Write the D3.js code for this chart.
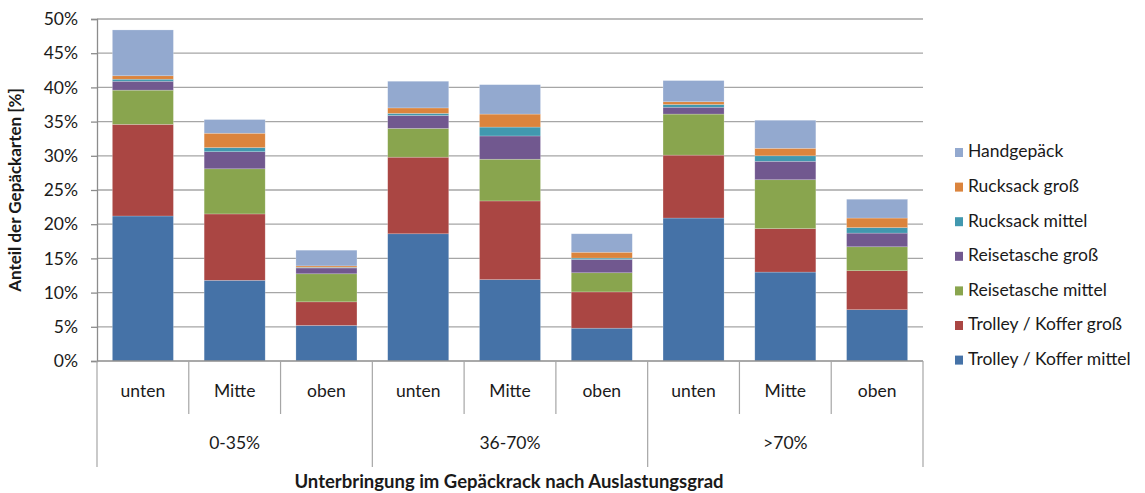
<!DOCTYPE html>
<html>
<head>
<meta charset="utf-8">
<script src="https://cdn.jsdelivr.net/npm/d3@7"></script>
<style>
  body { margin: 0; background: #fff; }
  svg { display: block; font-family: Lato, "Open Sans", sans-serif; }
</style>
</head>
<body>
<svg id="chart" width="1145" height="493"></svg>
<script>
// Data (percent)
const groups    = ['0-35%', '36-70%', '>70%'];
const positions = ['unten', 'Mitte', 'oben'];
const seriesNames = [
  'Trolley / Koffer mittel',
  'Trolley / Koffer groß',
  'Reisetasche mittel',
  'Reisetasche groß',
  'Rucksack mittel',
  'Rucksack groß',
  'Handgepäck'
];
const seriesColors = ['#4572A7', '#AA4643', '#89A54E', '#71588F', '#4198AF', '#DB843D', '#93A9CF'];

// one value per bar, bars ordered group by group (unten, Mitte, oben)
const trolleyMittel    = [21.2, 11.8, 5.2, 18.6, 11.9, 4.8, 20.9, 13.0, 7.5];
const trolleyGross     = [13.4, 9.7, 3.45, 11.2, 11.5, 5.3, 9.2, 6.35, 5.7];
const reisetascheMittel = [5.0, 6.6, 4.1, 4.2, 6.1, 2.8, 6.0, 7.15, 3.5];
const reisetascheGross = [1.3, 2.5, 0.85, 1.9, 3.4, 1.95, 1.0, 2.7, 2.0];
const rucksackMittel   = [0.3, 0.6, 0.1, 0.3, 1.3, 0.2, 0.4, 0.8, 0.8];
const rucksackGross    = [0.5, 2.1, 0.2, 0.8, 1.9, 0.85, 0.4, 1.1, 1.4];
const handgepaeck      = [6.7, 2.0, 2.3, 3.9, 4.3, 2.7, 3.1, 4.1, 2.75];
const yTicks = [0, 5, 10, 15, 20, 25, 30, 35, 40, 45, 50];

const seriesValues = [trolleyMittel, trolleyGross, reisetascheMittel, reisetascheGross,
                      rucksackMittel, rucksackGross, handgepaeck];

const bars = [];
groups.forEach((g, gi) => positions.forEach((p, pi) => {
  const i = gi * 3 + pi;
  const row = { key: i, group: g, pos: p };
  seriesNames.forEach((s, si) => { row[s] = seriesValues[si][i]; });
  bars.push(row);
}));

const svg = d3.select('#chart');
const plotLeft = 97, plotRight = 923, plotTop = 19, plotBottom = 361;
const textColor = '#1a1a1a';
const fontSize = '17.5px';

const x = d3.scaleBand().domain(bars.map(d => d.key)).range([plotLeft, plotRight]).paddingInner(0.335).paddingOuter(0.1675);
const y = d3.scaleLinear().domain([0, 50]).range([plotBottom, plotTop]);

// gridlines
svg.append('g').selectAll('line').data(yTicks.filter(t => t > 0)).join('line')
  .attr('x1', plotLeft).attr('x2', plotRight)
  .attr('y1', d => y(d)).attr('y2', d => y(d))
  .attr('stroke', '#a6a6a6').attr('stroke-width', 1.3);

// stacked bars
const stack = d3.stack().keys(seriesNames)(bars);
svg.append('g').selectAll('g').data(stack).join('g')
  .attr('fill', (d, i) => seriesColors[i])
  .selectAll('rect').data(d => d).join('rect')
  .attr('x', d => x(d.data.key))
  .attr('width', x.bandwidth())
  .attr('y', d => y(d[1]))
  .attr('height', d => y(d[0]) - y(d[1]))
  .attr('stroke', 'rgba(255,255,255,0.35)').attr('stroke-width', 0.6);

// y axis
const yAxis = svg.append('g').attr('transform', `translate(${plotLeft},0)`)
  .call(d3.axisLeft(y).tickValues(yTicks).tickFormat(d => d + '%').tickSize(6).tickPadding(13));
yAxis.select('.domain').attr('stroke', '#8c8c8c').attr('stroke-width', 1.3);
yAxis.selectAll('.tick line').attr('stroke', '#8c8c8c').attr('stroke-width', 1.3);
yAxis.selectAll('.tick text').attr('fill', textColor).style('font-size', fontSize)
  .style('font-family', 'Lato, "Open Sans", sans-serif');

// x axis (multi-level)
svg.append('line').attr('x1', plotLeft).attr('x2', plotRight).attr('y1', plotBottom).attr('y2', plotBottom)
  .attr('stroke', '#8c8c8c').attr('stroke-width', 1.5);

const step = x.step();
const boundaries = d3.range(0, 10).map(i => plotLeft + i * step);
svg.append('g').selectAll('line').data(boundaries).join('line')
  .attr('x1', d => d).attr('x2', d => d)
  .attr('y1', plotBottom)
  .attr('y2', (d, i) => i % 3 === 0 ? 467 : 414)
  .attr('stroke', '#a6a6a6').attr('stroke-width', 1.2);

svg.append('g').selectAll('text').data(bars).join('text')
  .attr('x', d => x(d.key) + x.bandwidth() / 2)
  .attr('y', 393)
  .attr('text-anchor', 'middle').attr('dominant-baseline', 'middle')
  .attr('fill', textColor).style('font-size', fontSize)
  .text(d => d.pos);

svg.append('g').selectAll('text').data(groups).join('text')
  .attr('x', (d, i) => plotLeft + (i * 3 + 1.5) * step)
  .attr('y', 445)
  .attr('text-anchor', 'middle').attr('dominant-baseline', 'middle')
  .attr('fill', textColor).style('font-size', fontSize)
  .text(d => d);

// axis titles
svg.append('text')
  .attr('x', 509).attr('y', 483)
  .attr('text-anchor', 'middle').attr('dominant-baseline', 'middle')
  .attr('fill', textColor).style('font-size', '18.5px').style('font-weight', 'bold')
  .text('Unterbringung im Gepäckrack nach Auslastungsgrad');

svg.append('text')
  .attr('transform', 'translate(17,190) rotate(-90)')
  .attr('text-anchor', 'middle').attr('dominant-baseline', 'middle')
  .attr('fill', textColor).style('font-size', '17px').style('font-weight', 'bold')
  .text('Anteil der Gepäckarten [%]');

// legend (top to bottom: reversed series order)
const legendItems = seriesNames.map((s, i) => ({ name: s, color: seriesColors[i] })).reverse();
const legend = svg.append('g').selectAll('g').data(legendItems).join('g')
  .attr('transform', (d, i) => `translate(955,${153 + i * 34.6})`);
legend.append('rect').attr('x', 0).attr('y', -5).attr('width', 8).attr('height', 9)
  .attr('fill', d => d.color);
legend.append('text').attr('x', 13).attr('y', 0)
  .attr('dominant-baseline', 'middle')
  .attr('fill', textColor).style('font-size', fontSize)
  .text(d => d.name);
</script>
</body>
</html>
